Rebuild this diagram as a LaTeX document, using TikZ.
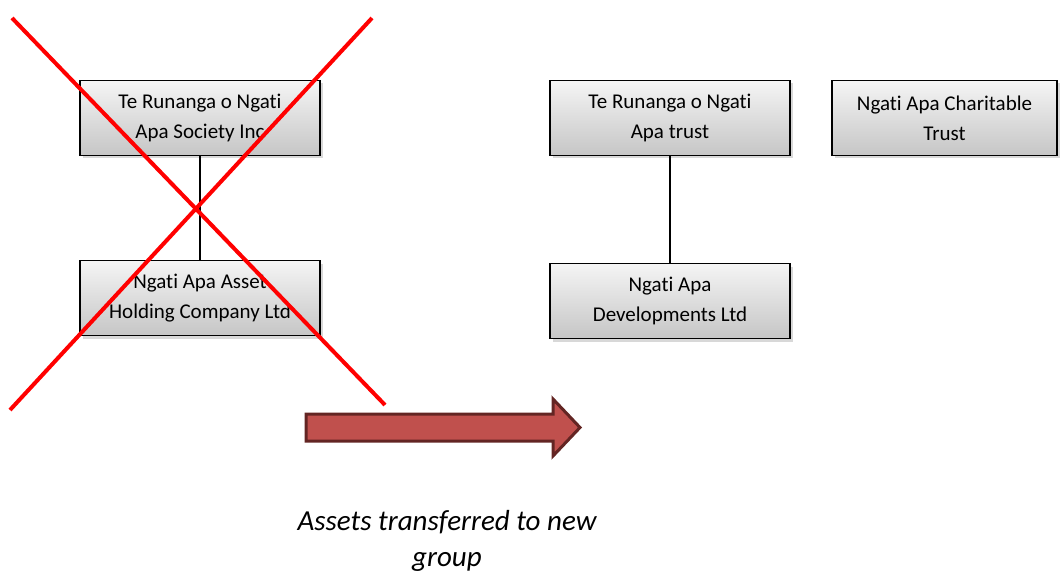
\documentclass[tikz,border=0pt]{standalone}
\usepackage{fontspec}
\setmainfont{Carlito}[Ligatures=NoCommon]
\usetikzlibrary{shadows}

\begin{document}
\begin{tikzpicture}[x=1pt,y=-1pt,
    entity/.style={draw,line width=1.6pt,minimum width=240pt,minimum height=75pt,inner sep=2pt,
      top color=gray!8,bottom color=gray!45,align=center,font=\fontsize{21}{30}\selectfont,
      drop shadow={shadow xshift=3pt,shadow yshift=-3pt,fill=gray!60}},
    link/.style={line width=1.2pt},
    cross/.style={red,line width=4pt}]
    \useasboundingbox (0,0) rectangle (1060,572);
    % old structure
    \node[entity] (society) at (200,118) {Te Runanga o Ngati\\Apa Society Inc};
    \node[entity] (holding) at (200,298) {Ngati Apa Asset\\Holding Company Ltd};
    \draw[link] (society) -- (holding);
    \draw[cross] (12,18) -- (385,405);
    \draw[cross] (372,18) -- (10,410);
    % new structure
    \node[entity] (trust) at (670,118) {Te Runanga o Ngati\\Apa trust};
    \node[entity,minimum width=225pt] (charity) at (944.5,118) {Ngati Apa Charitable\\Trust};
    \node[entity] (devel) at (670,301) {Ngati Apa\\Developments Ltd};
    \draw[link] (trust) -- (devel);
    % transfer
    \draw[line width=3pt,draw={rgb,255:red,99;green,37;blue,35},fill={rgb,255:red,192;green,80;blue,77},line join=miter]
      (306,414) -- (553,414) -- (553,399) -- (580,427.5) -- (553,456) -- (553,441) -- (306,441) -- cycle;
    \node[font=\fontsize{29}{36}\selectfont\itshape,align=center] (note) at (447,541) {Assets transferred to new\\group};
  \end{tikzpicture}
\end{document}
